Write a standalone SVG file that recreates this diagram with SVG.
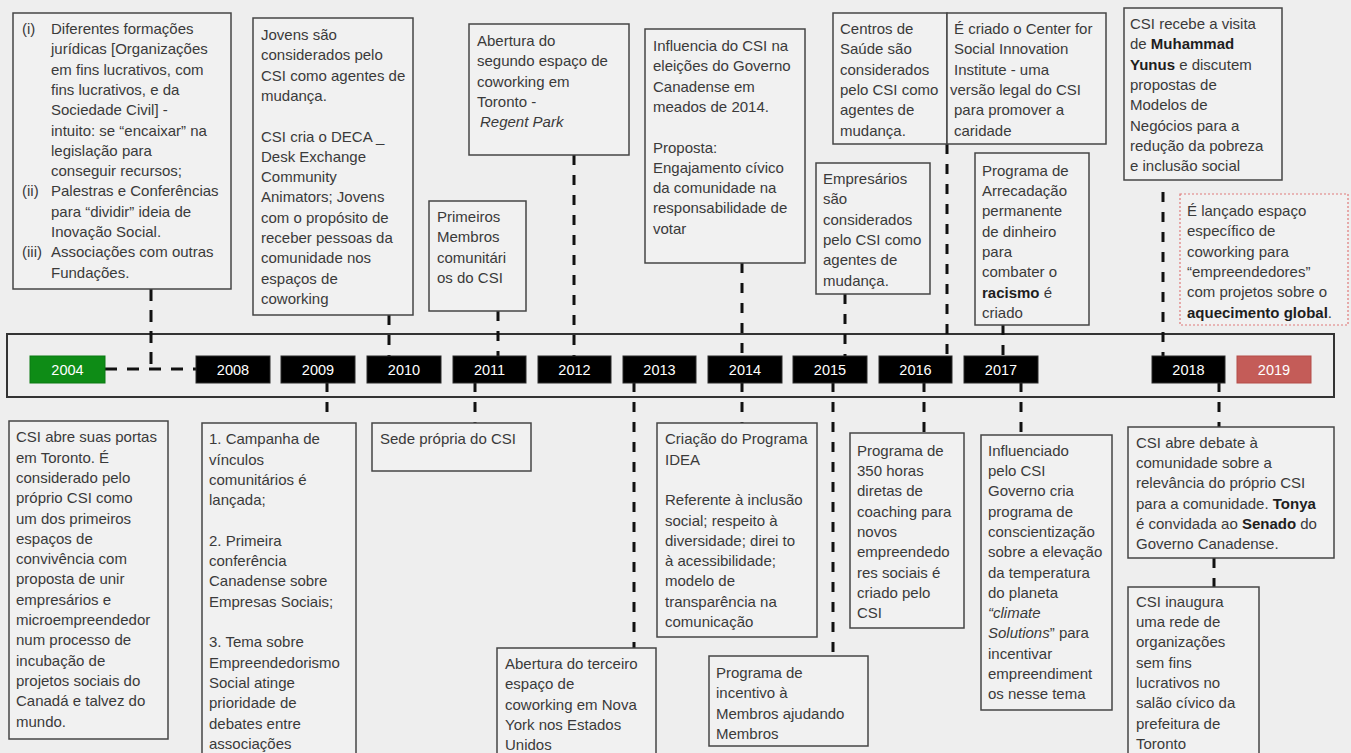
<svg xmlns="http://www.w3.org/2000/svg" width="1351" height="753" viewBox="0 0 1351 753">
<style>
.bg{fill:#eeeeee}
.box{fill:#f1f1f1;stroke:#454545;stroke-width:1.5}
.t{font-family:"Liberation Sans",Arial,sans-serif;font-size:15px;fill:#3a3a3a}
.b{font-weight:bold;fill:#1e1e1e}
.i{font-style:italic}
.yr{stroke:#2a2a2a;stroke-width:1}
.yt{font-family:"Liberation Sans",Arial,sans-serif;font-size:14.5px;fill:#ffffff;text-anchor:middle}
.dash{stroke:#111;stroke-width:3;stroke-dasharray:10 10;fill:none}
.frame{fill:none;stroke:#333;stroke-width:2}
</style>
<rect class="bg" x="0" y="0" width="1351" height="753"/>

<g id="timeline">
<rect class="frame" x="7" y="334" width="1327" height="63"/>
</g>

<g id="connectors">
<path class="dash" d="M151 289 V369" style="stroke-dasharray:12 9"/>
<path class="dash" d="M105 369 H196" style="stroke-dasharray:12 10"/>
<path class="dash" d="M389 315 V356"/>
<path class="dash" d="M498 311 V356"/>
<path class="dash" d="M574 155 V356"/>
<path class="dash" d="M742 263 V356"/>
<path class="dash" d="M947 144 V356"/>
<path class="dash" d="M845 294 V356"/>
<path class="dash" d="M1003 325 V356"/>
<path class="dash" d="M1163 192 V356"/>
<path class="dash" d="M327 382 V422"/>
<path class="dash" d="M475 382 V423"/>
<path class="dash" d="M634 382 V648"/>
<path class="dash" d="M742 382 V423"/>
<path class="dash" d="M833 382 V656"/>
<path class="dash" d="M924 382 V433"/>
<path class="dash" d="M1021 382 V435"/>
<path class="dash" d="M1219 382 V427"/>
<path class="dash" d="M1214 558 V587"/>
</g>

<g id="years">
<g id="y2004"><rect x="30" y="356" width="75" height="27" fill="#0e8c16" stroke="#0b7a12"/><text class="yt" x="67.5" y="374.5">2004</text></g>
<g id="y2008"><rect class="yr" x="196" y="356" width="74" height="27" fill="#000"/><text class="yt" x="233" y="374.5">2008</text></g>
<g id="y2009"><rect class="yr" x="281" y="356" width="74" height="27" fill="#000"/><text class="yt" x="318" y="374.5">2009</text></g>
<g id="y2010"><rect class="yr" x="367" y="356" width="74" height="27" fill="#000"/><text class="yt" x="404" y="374.5">2010</text></g>
<g id="y2011"><rect class="yr" x="453" y="356" width="73" height="27" fill="#000"/><text class="yt" x="489.5" y="374.5">2011</text></g>
<g id="y2012"><rect class="yr" x="538" y="356" width="73" height="27" fill="#000"/><text class="yt" x="574.5" y="374.5">2012</text></g>
<g id="y2013"><rect class="yr" x="623" y="356" width="73" height="27" fill="#000"/><text class="yt" x="659.5" y="374.5">2013</text></g>
<g id="y2014"><rect class="yr" x="708" y="356" width="74" height="27" fill="#000"/><text class="yt" x="745" y="374.5">2014</text></g>
<g id="y2015"><rect class="yr" x="793" y="356" width="74" height="27" fill="#000"/><text class="yt" x="830" y="374.5">2015</text></g>
<g id="y2016"><rect class="yr" x="879" y="356" width="73" height="27" fill="#000"/><text class="yt" x="915.5" y="374.5">2016</text></g>
<g id="y2017"><rect class="yr" x="964" y="356" width="74" height="27" fill="#000"/><text class="yt" x="1001" y="374.5">2017</text></g>
<g id="y2018"><rect class="yr" x="1152" y="356" width="73" height="27" fill="#000"/><text class="yt" x="1188.5" y="374.5">2018</text></g>
<g id="y2019"><rect x="1237" y="356" width="74" height="27" fill="#c45c58" stroke="#b44c48"/><text class="yt" x="1274" y="374.5">2019</text></g>
</g>

<g id="boxA">
<rect class="box" x="13" y="13" width="218" height="276"/>
<text class="t">
<tspan x="22" y="34">(i)</tspan><tspan x="51" y="34">Diferentes formações</tspan>
<tspan x="51" y="54.3">jurídicas [Organizações</tspan>
<tspan x="51" y="74.6">em fins lucrativos, com</tspan>
<tspan x="51" y="94.9">fins lucrativos, e da</tspan>
<tspan x="51" y="115.2">Sociedade Civil] -</tspan>
<tspan x="51" y="135.5">intuito: se “encaixar” na</tspan>
<tspan x="51" y="155.8">legislação para</tspan>
<tspan x="51" y="176.1">conseguir recursos;</tspan>
<tspan x="22" y="196.4">(ii)</tspan><tspan x="51" y="196.4">Palestras e Conferências</tspan>
<tspan x="51" y="216.7">para “dividir” ideia de</tspan>
<tspan x="51" y="237">Inovação Social.</tspan>
<tspan x="22" y="257.3">(iii)</tspan><tspan x="51" y="257.3">Associações com outras</tspan>
<tspan x="51" y="277.6">Fundações.</tspan>
</text>
</g>

<g id="boxB">
<rect class="box" x="253" y="18" width="160" height="297"/>
<text class="t">
<tspan x="261" y="40">Jovens são</tspan>
<tspan x="261" y="60.3">considerados pelo</tspan>
<tspan x="261" y="80.6">CSI como agentes de</tspan>
<tspan x="261" y="100.9">mudança.</tspan>
<tspan x="261" y="141.5">CSI cria o DECA _</tspan>
<tspan x="261" y="161.8">Desk Exchange</tspan>
<tspan x="261" y="182.1">Community</tspan>
<tspan x="261" y="202.4">Animators; Jovens</tspan>
<tspan x="261" y="222.7">com o propósito de</tspan>
<tspan x="261" y="243">receber pessoas da</tspan>
<tspan x="261" y="263.3">comunidade nos</tspan>
<tspan x="261" y="283.6">espaços de</tspan>
<tspan x="261" y="303.9">coworking</tspan>
</text>
</g>

<g id="boxC">
<rect class="box" x="429" y="201" width="97" height="110"/>
<text class="t">
<tspan x="437" y="222">Primeiros</tspan>
<tspan x="437" y="242.3">Membros</tspan>
<tspan x="437" y="262.6">comunitári</tspan>
<tspan x="437" y="282.9">os do CSI</tspan>
</text>
</g>

<g id="boxD">
<rect class="box" x="469" y="24" width="160" height="131"/>
<text class="t">
<tspan x="477" y="46">Abertura do</tspan>
<tspan x="477" y="66.3">segundo espaço de</tspan>
<tspan x="477" y="86.6">coworking em</tspan>
<tspan x="477" y="106.9">Toronto -</tspan>
<tspan x="480" y="127.2" class="i">Regent Park</tspan>
</text>
</g>

<g id="boxE">
<rect class="box" x="645" y="29" width="160" height="234"/>
<text class="t">
<tspan x="653" y="51">Influencia do CSI na</tspan>
<tspan x="653" y="71.3">eleições do Governo</tspan>
<tspan x="653" y="91.6">Canadense em</tspan>
<tspan x="653" y="111.9">meados de 2014.</tspan>
<tspan x="653" y="152.5">Proposta:</tspan>
<tspan x="653" y="172.8">Engajamento cívico</tspan>
<tspan x="653" y="193.1">da comunidade na</tspan>
<tspan x="653" y="213.4">responsabilidade de</tspan>
<tspan x="653" y="233.7">votar</tspan>
</text>
</g>

<g id="boxF">
<rect class="box" x="833" y="13" width="114" height="131"/>
<text class="t">
<tspan x="840" y="34">Centros de</tspan>
<tspan x="840" y="54.3">Saúde são</tspan>
<tspan x="840" y="74.6">considerados</tspan>
<tspan x="840" y="94.9">pelo CSI como</tspan>
<tspan x="840" y="115.2">agentes de</tspan>
<tspan x="840" y="135.5">mudança.</tspan>
</text>
</g>

<g id="boxG">
<rect class="box" x="947" y="13" width="159" height="131"/>
<text class="t">
<tspan x="954" y="34">É criado o Center for</tspan>
<tspan x="954" y="54.3">Social Innovation</tspan>
<tspan x="954" y="74.6">Institute - uma</tspan>
<tspan x="950" y="94.9">versão legal do CSI</tspan>
<tspan x="954" y="115.2">para promover a</tspan>
<tspan x="954" y="135.5">caridade</tspan>
</text>
</g>

<g id="boxH">
<rect class="box" x="816" y="163" width="114" height="131"/>
<text class="t">
<tspan x="823" y="184">Empresários</tspan>
<tspan x="823" y="204.3">são</tspan>
<tspan x="823" y="224.6">considerados</tspan>
<tspan x="823" y="244.9">pelo CSI como</tspan>
<tspan x="823" y="265.2">agentes de</tspan>
<tspan x="823" y="285.5">mudança.</tspan>
</text>
</g>

<g id="boxI">
<rect class="box" x="975" y="153" width="114" height="172"/>
<text class="t">
<tspan x="982" y="175.7">Programa de</tspan>
<tspan x="982" y="196">Arrecadação</tspan>
<tspan x="982" y="216.3">permanente</tspan>
<tspan x="982" y="236.6">de dinheiro</tspan>
<tspan x="982" y="256.9">para</tspan>
<tspan x="982" y="277.2">combater o</tspan>
<tspan x="982" y="297.5"><tspan class="b">racismo</tspan> é</tspan>
<tspan x="982" y="317.8">criado</tspan>
</text>
</g>

<g id="boxJ">
<rect class="box" x="1124" y="8" width="158" height="172"/>
<text class="t">
<tspan x="1130" y="29">CSI recebe a visita</tspan>
<tspan x="1130" y="49.3">de <tspan class="b">Muhammad</tspan></tspan>
<tspan x="1130" y="69.6"><tspan class="b">Yunus</tspan> e discutem</tspan>
<tspan x="1130" y="89.9">propostas de</tspan>
<tspan x="1130" y="110.2">Modelos de</tspan>
<tspan x="1130" y="130.5">Negócios para a</tspan>
<tspan x="1130" y="150.8">redução da pobreza</tspan>
<tspan x="1130" y="171.1">e inclusão social</tspan>
</text>
</g>

<g id="boxK">
<rect x="1180" y="194" width="168" height="131" fill="#f1f1f1" stroke="#e07a7a" stroke-width="1.2" stroke-dasharray="2 2"/>
<text class="t">
<tspan x="1187" y="216">É lançado espaço</tspan>
<tspan x="1187" y="236.3">específico de</tspan>
<tspan x="1187" y="256.6">coworking para</tspan>
<tspan x="1187" y="276.9">“empreendedores”</tspan>
<tspan x="1187" y="297.2">com projetos sobre o</tspan>
<tspan x="1187" y="317.5"><tspan class="b">aquecimento global</tspan>.</tspan>
</text>
</g>

<g id="boxL">
<rect class="box" x="9" y="421" width="159" height="318"/>
<text class="t">
<tspan x="16" y="442.3">CSI abre suas portas</tspan>
<tspan x="16" y="462.6">em Toronto. É</tspan>
<tspan x="16" y="482.9">considerado pelo</tspan>
<tspan x="16" y="503.2">próprio CSI como</tspan>
<tspan x="16" y="523.5">um dos primeiros</tspan>
<tspan x="16" y="543.8">espaços de</tspan>
<tspan x="16" y="564.1">convivência com</tspan>
<tspan x="16" y="584.4">proposta de unir</tspan>
<tspan x="16" y="604.7">empresários e</tspan>
<tspan x="16" y="625">microempreendedor</tspan>
<tspan x="16" y="645.3">num processo de</tspan>
<tspan x="16" y="665.6">incubação de</tspan>
<tspan x="16" y="685.9">projetos sociais do</tspan>
<tspan x="16" y="706.2">Canadá e talvez do</tspan>
<tspan x="16" y="726.5">mundo.</tspan>
</text>
</g>

<g id="boxM">
<rect class="box" x="202" y="423" width="154" height="335"/>
<text class="t">
<tspan x="209" y="444.3">1. Campanha de</tspan>
<tspan x="209" y="464.6">vínculos</tspan>
<tspan x="209" y="484.9">comunitários é</tspan>
<tspan x="209" y="505.2">lançada;</tspan>
<tspan x="209" y="545.8">2. Primeira</tspan>
<tspan x="209" y="566.1">conferência</tspan>
<tspan x="209" y="586.4">Canadense sobre</tspan>
<tspan x="209" y="606.7">Empresas Sociais;</tspan>
<tspan x="209" y="647.3">3. Tema sobre</tspan>
<tspan x="209" y="667.6">Empreendedorismo</tspan>
<tspan x="209" y="687.9">Social atinge</tspan>
<tspan x="209" y="708.2">prioridade de</tspan>
<tspan x="209" y="728.5">debates entre</tspan>
<tspan x="209" y="748.8">associações</tspan>
</text>
</g>

<g id="boxN">
<rect class="box" x="372" y="423" width="159" height="48"/>
<text class="t"><tspan x="380" y="444.3">Sede própria do CSI</tspan></text>
</g>

<g id="boxO">
<rect class="box" x="497" y="648" width="159" height="110"/>
<text class="t">
<tspan x="505" y="669">Abertura do terceiro</tspan>
<tspan x="505" y="689.3">espaço de</tspan>
<tspan x="505" y="709.6">coworking em Nova</tspan>
<tspan x="505" y="729.9">York nos Estados</tspan>
<tspan x="505" y="750.2">Unidos</tspan>
</text>
</g>

<g id="boxP">
<rect class="box" x="657" y="423" width="160" height="214"/>
<text class="t">
<tspan x="665" y="444.3">Criação do Programa</tspan>
<tspan x="665" y="464.6">IDEA</tspan>
<tspan x="665" y="505.2">Referente à inclusão</tspan>
<tspan x="665" y="525.5">social; respeito à</tspan>
<tspan x="665" y="545.8">diversidade; direi to</tspan>
<tspan x="665" y="566.1">à acessibilidade;</tspan>
<tspan x="665" y="586.4">modelo de</tspan>
<tspan x="665" y="606.7">transparência na</tspan>
<tspan x="665" y="627">comunicação</tspan>
</text>
</g>

<g id="boxQ">
<rect class="box" x="709" y="656" width="159" height="90"/>
<text class="t">
<tspan x="716" y="678">Programa de</tspan>
<tspan x="716" y="698.3">incentivo à</tspan>
<tspan x="716" y="718.6">Membros ajudando</tspan>
<tspan x="716" y="738.9">Membros</tspan>
</text>
</g>

<g id="boxR">
<rect class="box" x="850" y="433" width="114" height="195"/>
<text class="t">
<tspan x="857" y="455.7">Programa de</tspan>
<tspan x="857" y="476">350 horas</tspan>
<tspan x="857" y="496.3">diretas de</tspan>
<tspan x="857" y="516.6">coaching para</tspan>
<tspan x="857" y="536.9">novos</tspan>
<tspan x="857" y="557.2">empreendedo</tspan>
<tspan x="857" y="577.5">res sociais é</tspan>
<tspan x="857" y="597.8">criado pelo</tspan>
<tspan x="857" y="618.1">CSI</tspan>
</text>
</g>

<g id="boxS">
<rect class="box" x="981" y="435" width="131" height="275"/>
<text class="t">
<tspan x="988" y="455.7">Influenciado</tspan>
<tspan x="988" y="476">pelo CSI</tspan>
<tspan x="988" y="496.3">Governo cria</tspan>
<tspan x="988" y="516.6">programa de</tspan>
<tspan x="988" y="536.9">conscientização</tspan>
<tspan x="988" y="557.2">sobre a elevação</tspan>
<tspan x="988" y="577.5">da temperatura</tspan>
<tspan x="988" y="597.8">do planeta</tspan>
<tspan x="988" y="618.1" class="i">“climate</tspan>
<tspan x="988" y="638.4"><tspan class="i">Solutions</tspan>” para</tspan>
<tspan x="988" y="658.7">incentivar</tspan>
<tspan x="988" y="679">empreendiment</tspan>
<tspan x="988" y="699.3">os nesse tema</tspan>
</text>
</g>

<g id="boxT">
<rect class="box" x="1128" y="427" width="206" height="131"/>
<text class="t">
<tspan x="1136" y="447.7">CSI abre debate à</tspan>
<tspan x="1136" y="468">comunidade sobre a</tspan>
<tspan x="1136" y="488.3">relevância do próprio CSI</tspan>
<tspan x="1136" y="508.6">para a comunidade. <tspan class="b">Tonya</tspan></tspan>
<tspan x="1136" y="528.9">é convidada ao <tspan class="b">Senado</tspan> do</tspan>
<tspan x="1136" y="549.2">Governo Canadense.</tspan>
</text>
</g>

<g id="boxU">
<rect class="box" x="1128" y="587" width="131" height="171"/>
<text class="t">
<tspan x="1136" y="606.7">CSI inaugura</tspan>
<tspan x="1136" y="627">uma rede de</tspan>
<tspan x="1136" y="647.3">organizações</tspan>
<tspan x="1136" y="667.6">sem fins</tspan>
<tspan x="1136" y="687.9">lucrativos no</tspan>
<tspan x="1136" y="708.2">salão cívico da</tspan>
<tspan x="1136" y="728.5">prefeitura de</tspan>
<tspan x="1136" y="748.8">Toronto</tspan>
</text>
</g>
</svg>
